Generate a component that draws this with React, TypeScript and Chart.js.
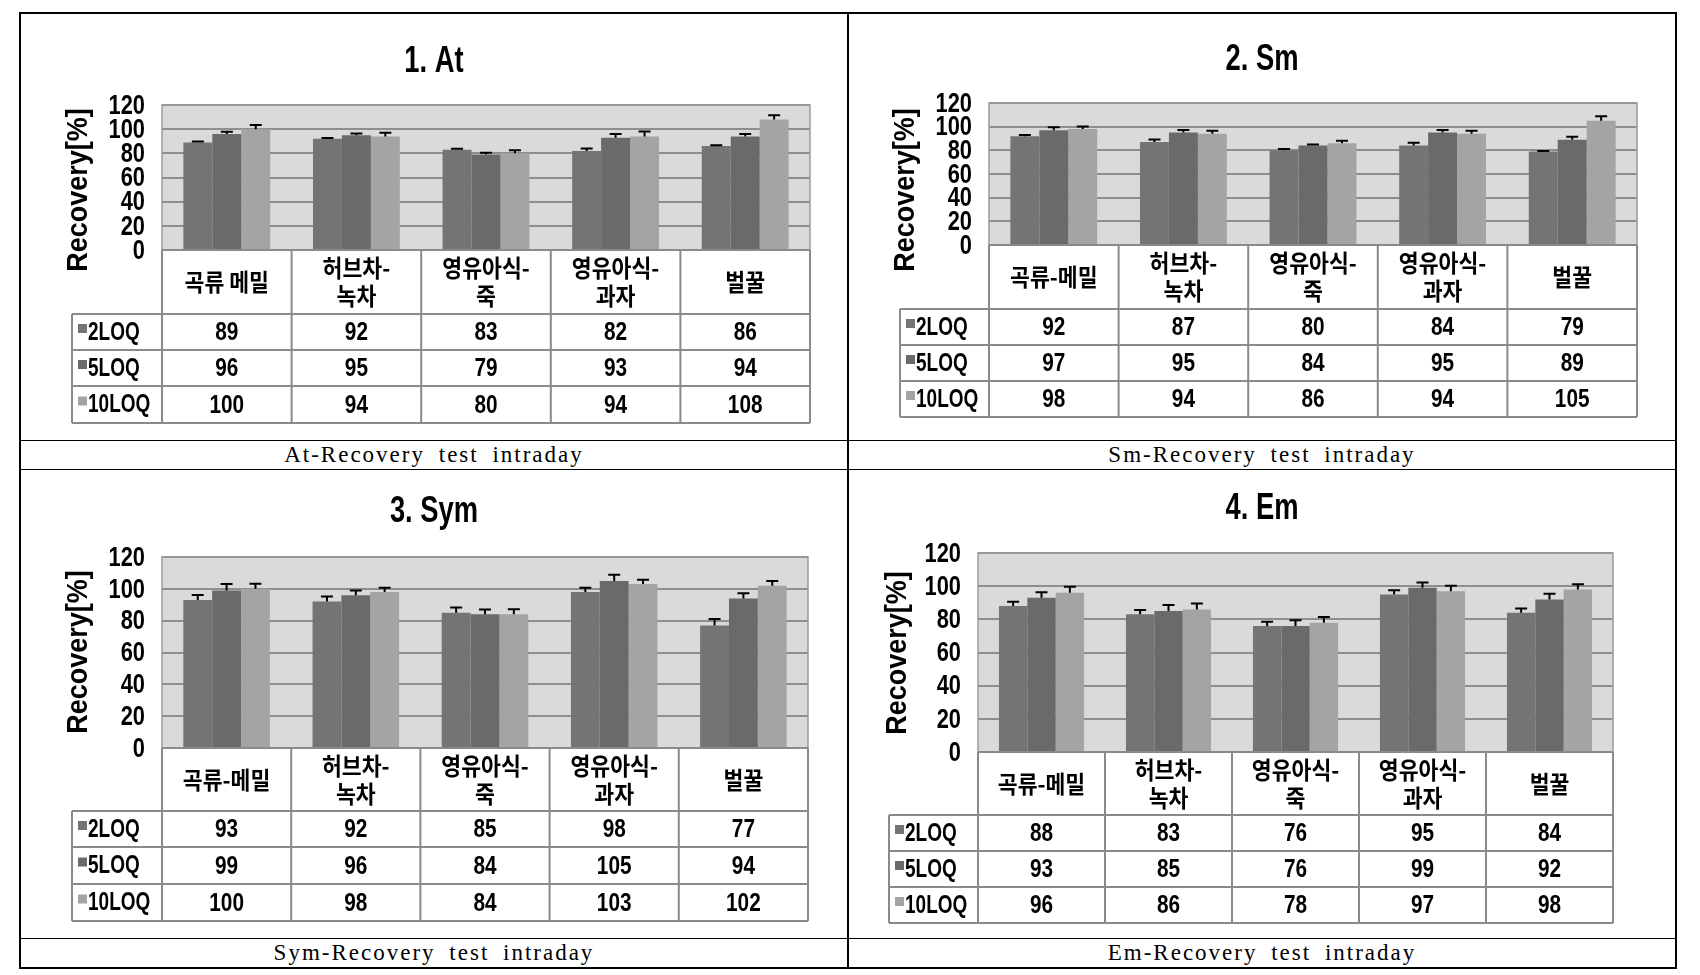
import React, { useEffect, useRef } from "react";
import { Chart, registerables } from "chart.js";
Chart.register(...registerables);

// ---------- DATA ----------
const categoriesAt = [["곡류 메밀"], ["허브차-", "녹차"], ["영유아식-", "죽"], ["영유아식-", "과자"], ["벌꿀"]];
const categoriesOther = [["곡류-메밀"], ["허브차-", "녹차"], ["영유아식-", "죽"], ["영유아식-", "과자"], ["벌꿀"]];
const seriesNames = ["2LOQ", "5LOQ", "10LOQ"];
const yTickValues = [0, 20, 40, 60, 80, 100, 120];

const at2LOQ = [89, 92, 83, 82, 86];
const at5LOQ = [96, 95, 79, 93, 94];
const at10LOQ = [100, 94, 80, 94, 108];
const atErr2 = [0.8, 0.7, 0.8, 2, 0.6];
const atErr5 = [1.8, 1.5, 1.5, 3, 2];
const atErr10 = [3.5, 3, 2.5, 4, 3.5];

const sm2LOQ = [92, 87, 80, 84, 79];
const sm5LOQ = [97, 95, 84, 95, 89];
const sm10LOQ = [98, 94, 86, 94, 105];
const smErr2 = [1, 2.2, 1.1, 2.5, 0.4];
const smErr5 = [2.5, 2.2, 1, 2.2, 2.5];
const smErr10 = [2.2, 2.5, 2.2, 2.5, 3.9];

const sym2LOQ = [93, 92, 85, 98, 77];
const sym5LOQ = [99, 96, 84, 105, 94];
const sym10LOQ = [100, 98, 84, 103, 102];
const symErr2 = [3.2, 3.2, 3.2, 2.7, 4];
const symErr5 = [4, 3, 3, 3.8, 3.2];
const symErr10 = [3.2, 2.7, 3.2, 2.7, 3];

const em2LOQ = [88, 83, 76, 95, 84];
const em5LOQ = [93, 85, 76, 99, 92];
const em10LOQ = [96, 86, 78, 97, 98];
const emErr2 = [2.6, 2.6, 2.6, 2.6, 2.6];
const emErr5 = [3.4, 3.6, 3.4, 3.2, 3.4];
const emErr10 = [3.6, 3.6, 3.4, 3.2, 3.2];

const titles = ["1. At", "2. Sm", "3. Sym", "4. Em"];
const captions = [
  "At-Recovery test intraday",
  "Sm-Recovery test intraday",
  "Sym-Recovery test intraday",
  "Em-Recovery test intraday",
];
const yAxisTitle = "Recovery[%]";

// ---------- STYLE / LAYOUT ----------
const COLORS = ["#747474", "#6a6a6a", "#a4a4a4"];
const PLOT_BG = "#dadada";
const GRID = "#8e8e8e";
const TABLE_LINE = "#8a8a8a";
const SANS = '"Liberation Sans", Arial, sans-serif';
const KR = '"Noto Sans CJK KR", sans-serif';

type Layout = {
  box: { x: number; y: number; w: number; h: number };
  plot: { l: number; r: number; t: number; b: number };
  legL: number;
  rows: number[];
  yTitle: { x: number; y: number };
  titleY: number;
};

const layouts: Layout[] = [
  { box: { x: 20, y: 13, w: 828, h: 427 }, plot: { l: 162, r: 810, t: 105, b: 250 }, legL: 72, rows: [314, 350, 386, 423], yTitle: { x: 79, y: 190 }, titleY: 62 },
  { box: { x: 848, y: 13, w: 828, h: 427 }, plot: { l: 989, r: 1637, t: 103, b: 245 }, legL: 900, rows: [309, 345, 381, 417], yTitle: { x: 906, y: 190 }, titleY: 60 },
  { box: { x: 20, y: 469, w: 828, h: 469 }, plot: { l: 162, r: 808, t: 557, b: 748 }, legL: 72, rows: [811, 847, 884, 921], yTitle: { x: 79, y: 652 }, titleY: 512 },
  { box: { x: 848, y: 469, w: 828, h: 469 }, plot: { l: 978, r: 1613, t: 553, b: 752 }, legL: 889, rows: [815, 851, 887, 923], yTitle: { x: 898, y: 653 }, titleY: 509 },
];

type PanelData = { cats: string[][]; vals: number[][]; errs: number[][] };
const panels: PanelData[] = [
  { cats: categoriesAt, vals: [at2LOQ, at5LOQ, at10LOQ], errs: [atErr2, atErr5, atErr10] },
  { cats: categoriesOther, vals: [sm2LOQ, sm5LOQ, sm10LOQ], errs: [smErr2, smErr5, smErr10] },
  { cats: categoriesOther, vals: [sym2LOQ, sym5LOQ, sym10LOQ], errs: [symErr2, symErr5, symErr10] },
  { cats: categoriesOther, vals: [em2LOQ, em5LOQ, em10LOQ], errs: [emErr2, emErr5, emErr10] },
];

function txt(ctx: CanvasRenderingContext2D, s: string, x: number, y: number, font: string, sx: number, align: CanvasTextAlign, rot = 0) {
  ctx.save();
  ctx.font = font;
  ctx.textAlign = align;
  ctx.textBaseline = "middle";
  ctx.fillStyle = "#000";
  ctx.translate(x, y);
  if (rot) ctx.rotate(rot);
  ctx.scale(sx, 1);
  ctx.fillText(s, 0, 0);
  ctx.restore();
}

function makePlugin(idx: number) {
  const L = layouts[idx];
  const P = panels[idx];
  const bx = L.box.x, by = L.box.y;
  return {
    id: "panel" + idx,
    beforeDraw(chart: any) {
      const { ctx, chartArea: a } = chart;
      ctx.save();
      ctx.fillStyle = PLOT_BG;
      ctx.fillRect(a.left, a.top, a.right - a.left, a.bottom - a.top);
      ctx.restore();
    },
    afterDatasetsDraw(chart: any) {
      const { ctx } = chart;
      const ys = chart.scales.y;
      ctx.save();
      ctx.strokeStyle = "#000";
      ctx.lineWidth = 2;
      chart.data.datasets.forEach((ds: any, i: number) => {
        const meta = chart.getDatasetMeta(i);
        meta.data.forEach((el: any, j: number) => {
          const v = ds.data[j];
          const e = P.errs[i][j];
          const y0 = ys.getPixelForValue(v);
          const y1 = ys.getPixelForValue(v + e);
          ctx.beginPath();
          ctx.moveTo(el.x, y0);
          ctx.lineTo(el.x, y1);
          ctx.moveTo(el.x - 6, y1);
          ctx.lineTo(el.x + 6, y1);
          ctx.stroke();
        });
      });
      ctx.restore();
    },
    afterDraw(chart: any) {
      const { ctx, chartArea: a } = chart;
      const xs = chart.scales.x;
      const ys = chart.scales.y;
      const n = P.cats.length;
      const cw = (a.right - a.left) / n;
      const rows = L.rows.map((r) => r - by);
      const legL = L.legL - bx;
      ctx.save();
      // plot border
      ctx.strokeStyle = "#9a9a9a";
      ctx.lineWidth = 1.5;
      ctx.strokeRect(a.left, a.top, a.right - a.left, a.bottom - a.top);
      // table lines
      ctx.strokeStyle = TABLE_LINE;
      ctx.lineWidth = 2;
      ctx.beginPath();
      for (let i = 0; i <= n; i++) {
        const x = a.left + i * cw;
        ctx.moveTo(x, a.bottom);
        ctx.lineTo(x, rows[3]);
      }
      ctx.moveTo(legL, rows[0]);
      ctx.lineTo(legL, rows[3]);
      ctx.moveTo(a.left, a.bottom);
      ctx.lineTo(a.right, a.bottom);
      for (let r = 0; r < 4; r++) {
        ctx.moveTo(legL, rows[r]);
        ctx.lineTo(a.right, rows[r]);
      }
      ctx.stroke();
      ctx.restore();

      // y tick labels
      yTickValues.forEach((v) => {
        txt(ctx, String(v), a.left - 17, ys.getPixelForValue(v) + 1, "bold 28px " + SANS, 0.78, "right");
      });

      // category header text
      const hMid = (a.bottom + rows[0]) / 2;
      P.cats.forEach((lines, j) => {
        const cx = xs.getPixelForValue(j);
        const lh = 28;
        const start = hMid - ((lines.length - 1) * lh) / 2;
        lines.forEach((t, k) => txt(ctx, t, cx, start + k * lh, "bold 24px " + KR, 0.9, "center"));
      });
      // values + legend cells
      for (let i = 0; i < 3; i++) {
        const mid = (rows[i] + rows[i + 1]) / 2 + 1;
        P.vals[i].forEach((v, j) => {
          txt(ctx, String(v), xs.getPixelForValue(j), mid, "bold 26px " + SANS, 0.8, "center");
        });
        ctx.save();
        ctx.fillStyle = COLORS[i];
        ctx.fillRect(legL + 6, mid - 9, 9, 9);
        ctx.restore();
        txt(ctx, seriesNames[i], legL + 16, mid, "bold 25px " + SANS, 0.76, "left");
      }
      // title
      txt(ctx, titles[idx], chart.width / 2, L.titleY - by, "bold 36px " + SANS, 0.76, "center");
      // y axis title
      txt(ctx, yAxisTitle, L.yTitle.x - bx, L.yTitle.y - by, "bold 30px " + SANS, 0.9, "center", -Math.PI / 2);
    },
  };
}

function Panel({ idx }: { idx: number }) {
  const ref = useRef<HTMLCanvasElement>(null);
  const L = layouts[idx];
  const P = panels[idx];
  useEffect(() => {
    const bx = L.box.x, by = L.box.y;
    const plotL = L.plot.l - bx, plotR = L.plot.r - bx, plotT = L.plot.t - by, plotB = L.plot.b - by;
    const chart = new Chart(ref.current as HTMLCanvasElement, {
      type: "bar",
      data: {
        labels: P.cats.map((c) => c.join("")),
        datasets: seriesNames.map((name, i) => ({
          label: name,
          data: P.vals[i],
          backgroundColor: COLORS[i],
          borderWidth: 0,
          categoryPercentage: 0.67,
          barPercentage: 1.0,
        })),
      },
      options: {
        responsive: false,
        animation: false,
        layout: { padding: { left: 0, top: plotT, right: L.box.w - plotR, bottom: L.box.h - plotB } },
        plugins: { legend: { display: false }, tooltip: { enabled: false }, title: { display: false } },
        scales: {
          x: { display: false, offset: true, grid: { display: false } },
          y: {
            min: 0,
            max: 120,
            afterBuildTicks: (s: any) => {
              s.ticks = yTickValues.map((v) => ({ value: v }));
            },
            ticks: { display: false, autoSkip: false },
            grid: { color: GRID, lineWidth: 2, drawTicks: false },
            border: { display: false },
            afterFit: (s: any) => {
              s.width = plotL;
            },
          },
        },
      } as any,
      plugins: [makePlugin(idx)],
    });
    return () => chart.destroy();
  }, []);
  return (
    <canvas
      ref={ref}
      width={L.box.w}
      height={L.box.h}
      style={{ position: "absolute", left: L.box.x, top: L.box.y, width: L.box.w, height: L.box.h }}
    />
  );
}

const line = (l: number, t: number, w: number, h: number) => (
  <div style={{ position: "absolute", left: l, top: t, width: w, height: h, background: "#000" }} />
);

export default function App() {
  const capStyle = (l: number, t: number): React.CSSProperties => ({
    position: "absolute",
    left: l,
    top: t,
    width: 828,
    height: 29,
    lineHeight: "29px",
    textAlign: "center",
    fontFamily: '"Liberation Serif", "DejaVu Serif", serif',
    fontSize: 23,
    letterSpacing: 2,
    wordSpacing: 6,
    color: "#000",
  });
  return (
    <div style={{ position: "absolute", left: 0, top: 0, width: 1700, height: 975, background: "#fff" }}>
      {[0, 1, 2, 3].map((i) => (
        <Panel key={i} idx={i} />
      ))}
      <div style={capStyle(20, 440)}>{captions[0]}</div>
      <div style={capStyle(848, 440)}>{captions[1]}</div>
      <div style={capStyle(20, 938)}>{captions[2]}</div>
      <div style={capStyle(848, 938)}>{captions[3]}</div>
      {line(19, 12, 1658, 1.5)}
      {line(19, 967, 1658, 1.5)}
      {line(19, 12, 1.5, 956)}
      {line(1675, 12, 1.5, 956)}
      {line(847, 12, 1.5, 956)}
      {line(19, 439.5, 1658, 1.2)}
      {line(19, 468.5, 1658, 1.2)}
      {line(19, 937.5, 1658, 1.2)}
    </div>
  );
}
